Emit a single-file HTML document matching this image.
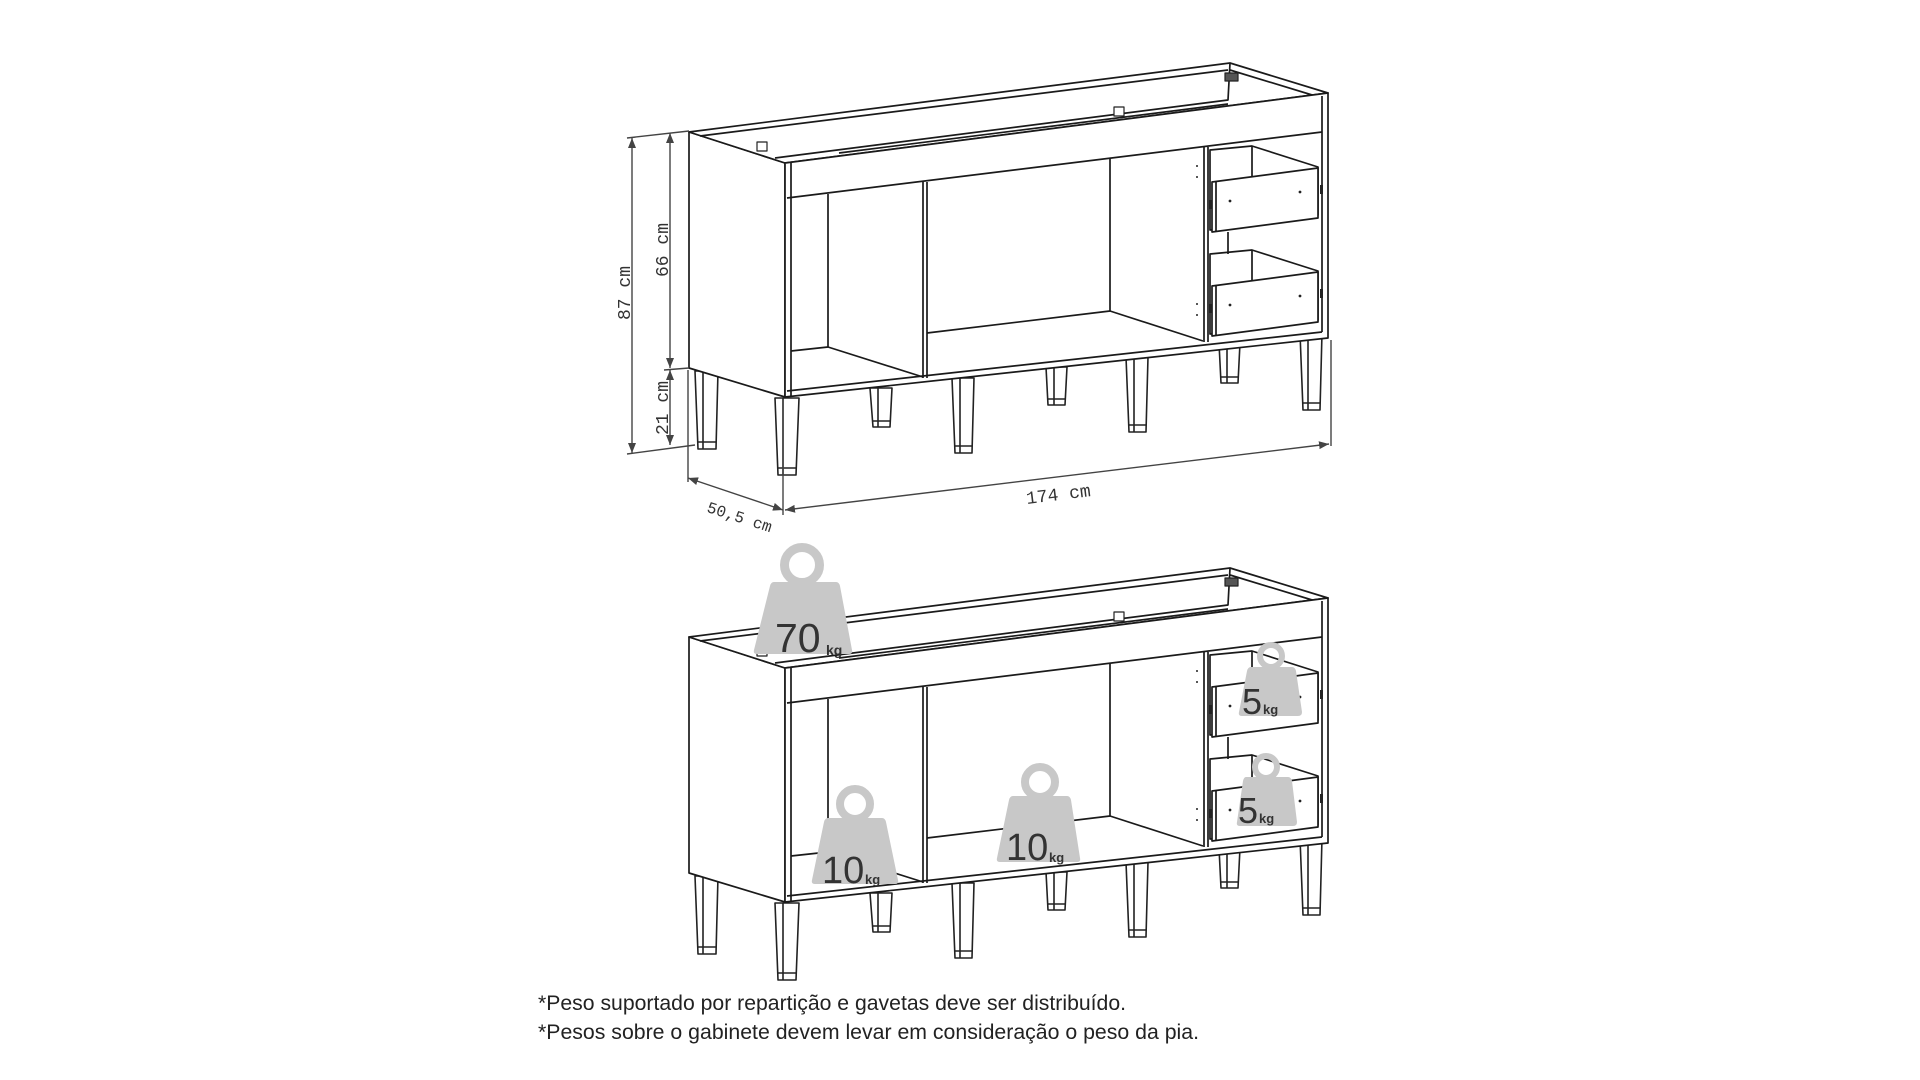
<!DOCTYPE html>
<html><head><meta charset="utf-8"><style>
html,body{margin:0;padding:0;background:#fff;}
svg{display:block;}
</style></head><body>
<svg width="1920" height="1080" viewBox="0 0 1920 1080" xmlns="http://www.w3.org/2000/svg">
<defs>
<marker id="ar" viewBox="0 0 10 10" refX="10" refY="5" markerWidth="10" markerHeight="10" orient="auto-start-reverse" markerUnits="userSpaceOnUse"><path d="M0,1 L10,5 L0,9 z" fill="#444"/></marker>
<g id="cab" fill="none" stroke="#1a1a1a" stroke-width="1.7" stroke-linejoin="round">
  <g fill="#fff" stroke="#222" stroke-width="1.6">
    <path d="M870,388 L892,388 L890,427 L873,427 Z"/><line x1="878" y1="388" x2="878" y2="427"/><line x1="873" y1="421" x2="890" y2="421"/>
    <path d="M1046,367 L1067,367 L1065,405 L1048,405 Z"/><line x1="1054" y1="367" x2="1054" y2="405"/><line x1="1048" y1="399" x2="1065" y2="399"/>
    <path d="M1219,343 L1240,343 L1238,383 L1221,383 Z"/><line x1="1227" y1="343" x2="1227" y2="383"/><line x1="1221" y1="377" x2="1238" y2="377"/>
    <path d="M695,371 L718,371 L716,449 L698,449 Z"/><line x1="703" y1="371" x2="703" y2="449"/><line x1="698" y1="442" x2="716" y2="442"/>
    <path d="M952,378 L974,378 L972,453 L955,453 Z"/><line x1="960" y1="378" x2="960" y2="453"/><line x1="955" y1="446" x2="972" y2="446"/>
    <path d="M1126,357 L1148,357 L1146,432 L1129,432 Z"/><line x1="1134" y1="357" x2="1134" y2="432"/><line x1="1129" y1="425" x2="1146" y2="425"/>
    <path d="M1300,333 L1322,333 L1320,410 L1303,410 Z"/><line x1="1308" y1="333" x2="1308" y2="410"/><line x1="1303" y1="403" x2="1320" y2="403"/>
    <path d="M775,398 L799,398 L796,475 L778,475 Z"/><line x1="783" y1="398" x2="783" y2="475"/><line x1="778" y1="468" x2="796" y2="468"/>
  </g>
  <path d="M689,132 L785,163 L785,397 L689,368 Z" fill="#fff"/>
  <path d="M689,132 L1230,63 L1328,93 L785,163 Z" fill="#fff"/>
  <line x1="700" y1="136" x2="1228" y2="70"/>
  <path d="M775,158 L1228,100 L1230,63" />
  <line x1="839" y1="153" x2="1228" y2="104"/>
  <line x1="1230" y1="70" x2="1322" y2="98"/>
  <path d="M785,163 L1328,93 L1328,338 L785,397 Z" fill="#fff"/>
  <line x1="791" y1="163" x2="791" y2="397"/>
  <line x1="1322" y1="96" x2="1322" y2="332"/>
  <line x1="787" y1="198" x2="1322" y2="132"/>
  <line x1="787" y1="391" x2="1322" y2="332"/>
  <line x1="828" y1="194" x2="828" y2="347"/>
  <line x1="791" y1="351" x2="828" y2="347"/>
  <line x1="828" y1="347" x2="923" y2="377"/>
  <line x1="923" y1="182" x2="923" y2="378"/>
  <line x1="927" y1="182" x2="927" y2="378"/>
  <line x1="927" y1="333" x2="1110" y2="311"/>
  <line x1="1110" y1="158" x2="1110" y2="311"/>
  <line x1="1110" y1="311" x2="1203" y2="341"/>
  <line x1="1204" y1="147" x2="1204" y2="342"/>
  <line x1="1208" y1="147" x2="1208" y2="342"/>
  <g fill="#fff">
    <path d="M1210,150 L1252,146 L1318,167 L1318,215 L1210,230 Z"/>
    <line x1="1252" y1="146" x2="1252" y2="176"/>
    <path d="M1212,182 L1318,168 L1318,218 L1212,232 Z"/>
    <line x1="1216" y1="182" x2="1216" y2="232"/>
    <path d="M1210,254 L1252,250 L1318,271 L1318,320 L1210,334 Z"/>
    <line x1="1252" y1="250" x2="1252" y2="280"/>
    <line x1="1228" y1="232" x2="1228" y2="254"/>
    <path d="M1212,286 L1318,272 L1318,322 L1212,336 Z"/>
    <line x1="1216" y1="286" x2="1216" y2="336"/>
  </g>
  <g fill="#222" stroke="none">
    <circle cx="1230" cy="201" r="1.4"/><circle cx="1300" cy="192" r="1.4"/>
    <circle cx="1230" cy="305" r="1.4"/><circle cx="1300" cy="296" r="1.4"/>
    <circle cx="1197" cy="166" r="1"/><circle cx="1197" cy="177" r="1"/>
    <circle cx="1197" cy="304" r="1"/><circle cx="1197" cy="315" r="1"/>
    <rect x="1209" y="200" width="3" height="9"/><rect x="1320" y="185" width="3" height="9"/>
    <rect x="1209" y="304" width="3" height="9"/><rect x="1320" y="289" width="3" height="9"/>
  </g>
  <g fill="#fff" stroke="#222" stroke-width="1.2">
    <rect x="757" y="142" width="10" height="9"/>
    <rect x="1114" y="107" width="10" height="9"/>
    <rect x="1225" y="73" width="13" height="8" fill="#555"/>
  </g>
</g>
</defs>

<use href="#cab"/>
<use href="#cab" transform="translate(0,505)"/>

<g stroke="#444" stroke-width="1.4" fill="none">
  <line x1="632" y1="138" x2="632" y2="453" marker-start="url(#ar)" marker-end="url(#ar)"/>
  <line x1="670" y1="133" x2="670" y2="368" marker-start="url(#ar)" marker-end="url(#ar)"/>
  <line x1="670" y1="370" x2="670" y2="445" marker-start="url(#ar)" marker-end="url(#ar)"/>
  <line x1="627" y1="138" x2="689" y2="131"/>
  <line x1="664" y1="370" x2="689" y2="368"/>
  <line x1="627" y1="454" x2="695" y2="445"/>
  <line x1="688" y1="370" x2="688" y2="482"/>
  <line x1="783" y1="400" x2="783" y2="515"/>
  <line x1="1331" y1="340" x2="1331" y2="446"/>
  <line x1="688" y1="478" x2="783" y2="510" marker-start="url(#ar)" marker-end="url(#ar)"/>
  <line x1="785" y1="510" x2="1329" y2="444" marker-start="url(#ar)" marker-end="url(#ar)"/>
</g>
<g font-family="'Liberation Mono', monospace" font-size="18" fill="#333">
  <text transform="translate(630,293) rotate(-90)" text-anchor="middle">87 cm</text>
  <text transform="translate(668,250) rotate(-90)" text-anchor="middle">66 cm</text>
  <text transform="translate(668,408) rotate(-90)" text-anchor="middle">21 cm</text>
  <text transform="translate(1059,500) rotate(-7)" text-anchor="middle">174 cm</text>
  <text transform="translate(738,522) rotate(18)" text-anchor="middle" font-size="16">50,5 cm</text>
</g>

<g font-family="'Liberation Sans', sans-serif" fill="#333">
  <g>
    <circle cx="802" cy="565" r="17.5" fill="none" stroke="#c8c8c8" stroke-width="9"/>
    <path d="M774,582 L836,582 Q839,582 840,586 L852,650 Q853,654 849,654 L757,654 Q753,654 754,650 L770,586 Q771,582 774,582 Z" fill="#c8c8c8"/>
    <text x="775" y="652" font-size="41">70</text><text x="826" y="655" font-size="14" font-weight="bold">kg</text>
  </g>
  <g>
    <circle cx="855" cy="804" r="15" fill="none" stroke="#c8c8c8" stroke-width="8"/>
    <path d="M828,818 L882,818 Q885,818 886,822 L898,880 Q899,884 895,884 L815,884 Q811,884 812,880 L824,822 Q825,818 828,818 Z" fill="#c8c8c8"/>
    <text x="822" y="883" font-size="38">10</text><text x="865" y="884" font-size="13" font-weight="bold">kg</text>
  </g>
  <g>
    <circle cx="1040" cy="782" r="15" fill="none" stroke="#c8c8c8" stroke-width="8"/>
    <path d="M1013,796 L1067,796 Q1070,796 1071,800 L1080,858 Q1081,862 1077,862 L1000,862 Q996,862 997,858 L1009,800 Q1010,796 1013,796 Z" fill="#c8c8c8"/>
    <text x="1006" y="860" font-size="38">10</text><text x="1049" y="862" font-size="13" font-weight="bold">kg</text>
  </g>
  <g>
    <circle cx="1271" cy="656" r="11" fill="none" stroke="#c8c8c8" stroke-width="6"/>
    <path d="M1251,667 L1292,667 Q1295,667 1296,671 L1302,712 Q1302,716 1298,716 L1242,716 Q1238,716 1239,712 L1247,671 Q1248,667 1251,667 Z" fill="#c8c8c8"/>
    <text x="1242" y="714" font-size="36">5</text><text x="1263" y="714" font-size="13" font-weight="bold">kg</text>
  </g>
  <g>
    <circle cx="1266" cy="767" r="11" fill="none" stroke="#c8c8c8" stroke-width="6"/>
    <path d="M1246,777 L1288,777 Q1291,777 1292,781 L1297,822 Q1297,826 1293,826 L1240,826 Q1236,826 1237,822 L1243,781 Q1244,777 1246,777 Z" fill="#c8c8c8"/>
    <text x="1238" y="823" font-size="36">5</text><text x="1259" y="823" font-size="13" font-weight="bold">kg</text>
  </g>
</g>

<g font-family="'Liberation Sans', sans-serif" font-size="21" fill="#222">
  <text x="538" y="1010" textLength="588" lengthAdjust="spacingAndGlyphs">*Peso suportado por repartição e gavetas deve ser distribuído.</text>
  <text x="538" y="1039" textLength="661" lengthAdjust="spacingAndGlyphs">*Pesos sobre o gabinete devem levar em consideração o peso da pia.</text>
</g>
</svg>
</body></html>
